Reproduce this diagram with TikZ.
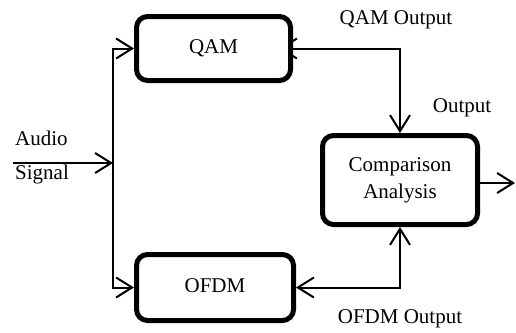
\documentclass[tikz,border=0pt]{standalone}
\usepackage{fontspec}
\setmainfont{Liberation Serif}
\usetikzlibrary{arrows.meta,backgrounds}
\begin{document}
\begin{tikzpicture}[x=1pt,y=-1pt,
  blk/.style={draw,line width=5pt,rounded corners=11pt,fill=white,align=center,inner sep=0pt,font=\fontsize{21}{27}\selectfont},
  lbl/.style={inner sep=0pt,font=\fontsize{21}{25}\selectfont},
  conn/.style={line width=2pt},
  tip/.tip={Straight Barb[length=16pt,width=20pt,line width=2pt]}]
\useasboundingbox (0,0) rectangle (516,332);
\node[blk,minimum width=154pt,minimum height=64pt] (qam) at (213.5,48.5) {\raisebox{4pt}{QAM}};
\node[blk,minimum width=157pt,minimum height=66pt] (ofdm) at (215,287.5) {\raisebox{4pt}{OFDM}};
\node[blk,minimum width=155pt,minimum height=89pt] (comp) at (400,180) {Comparison\\Analysis};
\coordinate (in) at (13,163);
\coordinate (split) at (113,163);
\coordinate (out) at (515,183);
\node[lbl,anchor=west] (audio) at (15,138) {Audio};
\node[lbl,anchor=west] (signal) at (15,174) {Signal};
\node[lbl] (qamout) at (396,20) {QAM Output};
\node[lbl] (output) at (462,108) {Output};
\node[lbl] (ofdmout) at (400,319) {OFDM Output};
\begin{scope}[on background layer]
\draw[conn,-{tip}] (in) -- (split);
\draw[conn,-{tip}] (split) |- (qam.west);
\draw[conn,-{tip}] (split) |- (ofdm.west);
\draw[conn,{tip}-{tip}] ([xshift=-14pt]qam.east) -| (comp.north);
\draw[conn,{tip}-{tip}] (ofdm.east) -| (comp.south);
\draw[conn,-{tip}] (comp.east |- out) -- (out);
\end{scope}
\end{tikzpicture}
\end{document}
